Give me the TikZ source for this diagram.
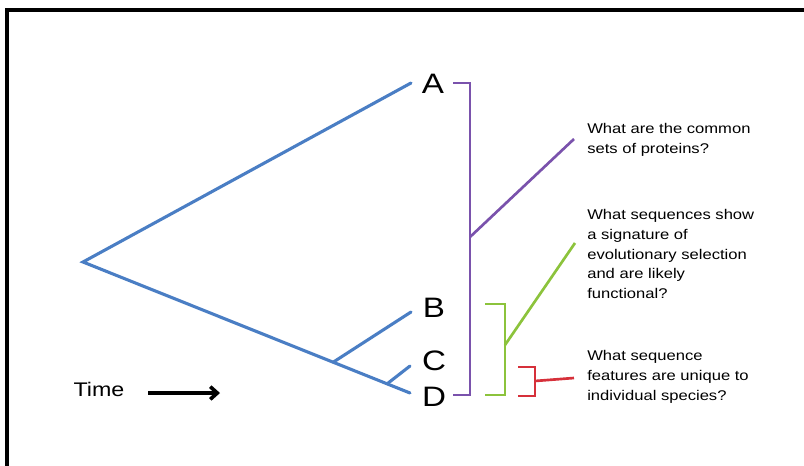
\documentclass[tikz,border=0pt]{standalone}
\usepackage{fontspec}
\setmainfont{Liberation Sans}[FakeStretch=1.18]
\usetikzlibrary{calc,arrows.meta}

\definecolor{treeblue}{RGB}{74,126,196}
\definecolor{allpurple}{RGB}{122,82,172}
\definecolor{selgreen}{RGB}{140,195,60}
\definecolor{uniqred}{RGB}{214,48,58}

\tikzset{
  branch/.style={treeblue, line width=2.2pt, line cap=round},
  bracket/.style={line width=1.9pt},
  leaf/.style={font=\fontsize{20}{24}\selectfont, inner sep=0pt},
  question/.style={font=\fontsize{10}{14}\selectfont, align=left, inner sep=0pt, anchor=west}
}

\begin{document}
\begin{tikzpicture}[x=0.025cm,y=-0.025cm]
\useasboundingbox (0,0) rectangle (804,466);
\draw[line width=2.2pt] (7,466) -- (7,10) -- (804,10);

% tree
\coordinate (root) at (83,262);
\coordinate (tA) at (411,83);
\coordinate (tB) at (411,312);
\coordinate (tC) at (410,366);
\coordinate (tD) at (410,393);
\coordinate (jB) at ($(root)!0.765!(tD)$);
\coordinate (jC) at ($(root)!0.93!(tD)$);
\draw[branch] (tA) -- (root) -- (tD);
\draw[branch] (jB) -- (tB);
\draw[branch] (jC) -- (tC);

\node[leaf] (A) at (433,84) {A};
\node[leaf] (B) at (434,308) {B};
\node[leaf] (C) at (434,361) {C};
\node[leaf] (D) at (434,397) {D};

% questions
\node[question] (q1) at (587,140) {What are the common\\sets of proteins?};
\node[question] (q2) at (587,254) {What sequences show\\a signature of\\evolutionary selection\\and are likely\\functional?};
\node[question] (q3) at (587,377) {What sequence\\features are unique to\\individual species?};

% brackets
\coordinate (pm) at (470,237);
\coordinate (p1) at (574,139);
\draw[bracket, allpurple] (453,83) -- (470,83) -- (470,395) -- (453,395);
\draw[bracket, allpurple] (pm) -- (p1);

\coordinate (gm) at (505,345);
\coordinate (g1) at (575,243);
\draw[bracket, selgreen] (485,304) -- (505,304) -- (505,395) -- (485,395);
\draw[bracket, selgreen] (gm) -- (g1);

\coordinate (rm) at (535,381);
\coordinate (r1) at (574,378);
\draw[bracket, uniqred] (518,367) -- (535,367) -- (535,396) -- (518,396);
\draw[bracket, uniqred] (rm) -- (r1);

% time axis
\node[font=\fontsize{14}{16}\selectfont, inner sep=0pt] (time) at (99,389) {Time};
\coordinate (t0) at (148,393);
\coordinate (t1) at (220,393);
\draw[line width=2.6pt, -{Straight Barb[length=5pt,width=9pt]}] (t0) -- (t1);
\end{tikzpicture}
\end{document}
